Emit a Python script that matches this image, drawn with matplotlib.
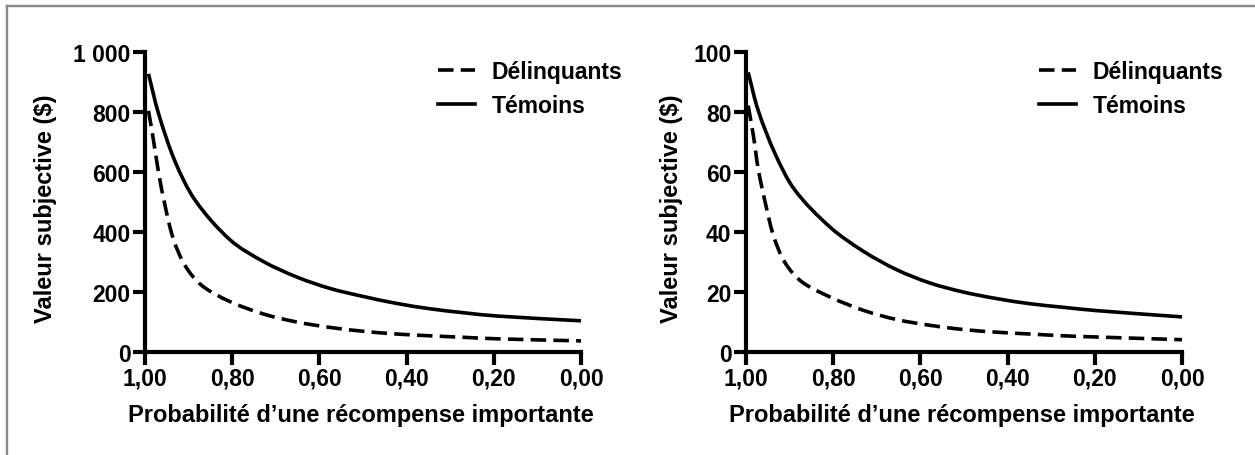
import matplotlib
matplotlib.use("Agg")
import numpy as np
import matplotlib.pyplot as plt
from matplotlib.lines import Line2D
from matplotlib.path import Path
from matplotlib.patches import PathPatch

plt.rcParams['font.family'] = ['Liberation Sans', 'DejaVu Sans']
plt.rcParams['font.weight'] = 'bold'

# ---- data ----
# Left panel (1 000 $)
p_temoins_1000 = [0.992, 0.969, 0.931, 0.885, 0.805, 0.729, 0.652,
                  0.576, 0.499, 0.423, 0.346, 0.270, 0.193, 0.0]
v_temoins_1000 = [927, 795, 635, 506, 374, 302, 250,
                  212, 185, 162, 144, 131, 120, 104]
p_delinq_1000 = [0.992, 0.981, 0.969, 0.954, 0.935, 0.908, 0.870, 0.805, 0.729,
                 0.652, 0.576, 0.499, 0.423, 0.346, 0.270, 0.193, 0.0]
v_delinq_1000 = [804, 710, 599, 488, 377, 288, 222, 168, 127,
                 100, 82, 69, 60, 54, 49, 44, 37]

# Right panel (100 $)
p_temoins_100 = [0.995, 0.972, 0.933, 0.888, 0.807, 0.731, 0.654,
                 0.578, 0.502, 0.425, 0.349, 0.272, 0.196, 0.0]
v_temoins_100 = [93.2, 80.5, 66.0, 54.0, 41.6, 33.6, 27.4,
                 23.0, 20.0, 17.8, 16.1, 14.9, 13.8, 11.7]
p_delinq_100 = [0.995, 0.983, 0.972, 0.956, 0.937, 0.911, 0.872, 0.805, 0.731,
                0.654, 0.578, 0.502, 0.425, 0.349, 0.272, 0.196, 0.0]
v_delinq_100 = [82.1, 72.1, 61.0, 49.9, 38.8, 29.9, 23.4, 18.2, 13.9,
                10.8, 8.9, 7.5, 6.6, 6.0, 5.4, 5.0, 4.1]

x_ticks = [1.0, 0.8, 0.6, 0.4, 0.2, 0.0]
x_ticklabels = ["1,00", "0,80", "0,60", "0,40", "0,20", "0,00"]
y_ticks_1000 = [0, 200, 400, 600, 800, 1000]
y_ticklabels_1000 = ["0", "200", "400", "600", "800", "1 000"]
y_ticks_100 = [0, 20, 40, 60, 80, 100]
y_ticklabels_100 = ["0", "20", "40", "60", "80", "100"]

series_labels = ["Délinquants", "Témoins"]
xlabel = "Probabilité d\u2019une récompense importante"
ylabel = "Valeur subjective ($)"

W, H = 1255, 456
fig = plt.figure(figsize=(W / 100, H / 100), dpi=100)

# grey frame (top and left visible, cropped on the other sides)
fig.add_artist(Line2D([6.5 / W, 1.01], [1 - 7 / H, 1 - 7 / H], color='#8a8a8a', lw=1.7,
                      transform=fig.transFigure))
fig.add_artist(Line2D([6.5 / W, 6.5 / W], [1 - 7 / H, -0.01], color='#8a8a8a', lw=1.7,
                      transform=fig.transFigure))

LW = 2.6
DASH = (0, (4.3, 2.0))
FS_TICK = 16.5
FS_LAB = 17
FS_LEG = 16.5


def smooth_path(xs, ys, ymax):
    """Smooth Bezier path through the read points (drawing only).
    Tangents are computed in an aspect-corrected space so uneven spacing
    does not create kinks."""
    sx, sy = 436.0, 300.0 / ymax
    pts = np.column_stack([np.asarray(xs, float) * sx, np.asarray(ys, float) * sy])
    n = len(pts)
    tang = np.zeros_like(pts)
    for i in range(n):
        a = pts[max(i - 1, 0)]
        b = pts[min(i + 1, n - 1)]
        d = b - a
        tang[i] = d / np.hypot(*d)
    verts = [pts[0]]
    codes = [Path.MOVETO]
    for i in range(n - 1):
        L = np.hypot(*(pts[i + 1] - pts[i]))
        verts += [pts[i] + tang[i] * L / 3.0, pts[i + 1] - tang[i + 1] * L / 3.0, pts[i + 1]]
        codes += [Path.CURVE4] * 3
    verts = np.array(verts)
    verts[:, 0] /= sx
    verts[:, 1] /= sy
    return Path(verts, codes)


def make_panel(left_px, pt, vt, pd, vd, yticks, yticklabels, ymax, ylab_x):
    ax = fig.add_axes([left_px / W, (H - 353) / H, 436 / W, 300 / H])
    ax.set_xlim(1.0, 0.0)
    ax.set_ylim(0, ymax)
    ax.add_patch(PathPatch(smooth_path(pd, vd, ymax), fill=False, edgecolor='black', lw=LW,
                           linestyle=DASH, capstyle='butt', clip_on=False))
    ax.add_patch(PathPatch(smooth_path(pt, vt, ymax), fill=False, edgecolor='black', lw=LW,
                           linestyle='-', capstyle='butt', clip_on=False))
    ax.set_xticks(x_ticks)
    ax.set_xticklabels(x_ticklabels)
    ax.set_yticks(yticks)
    ax.set_yticklabels(yticklabels)
    for s in ['top', 'right']:
        ax.spines[s].set_visible(False)
    for s in ['left', 'bottom']:
        ax.spines[s].set_linewidth(3.0)
        ax.spines[s].set_capstyle('projecting')
    ax.tick_params(axis='both', which='major', width=3.0, length=9, labelsize=FS_TICK,
                   direction='out', pad=1.5)
    for lab in ax.get_xticklabels() + ax.get_yticklabels():
        lab.set_fontweight('bold')
    ax.set_xlabel(xlabel, fontsize=FS_LAB, fontweight='bold')
    ax.xaxis.set_label_coords(0.495, -0.207)
    ax.xaxis.label.set_va('center')
    ax.set_ylabel(ylabel, fontsize=FS_LAB, fontweight='bold')
    ax.yaxis.set_label_coords(ylab_x, 0.48)
    ax.yaxis.label.set_va('center')
    handles = [Line2D([], [], color='black', lw=LW, linestyle=DASH, dash_capstyle='butt'),
               Line2D([], [], color='black', lw=LW, linestyle='-')]
    leg = ax.legend(handles, series_labels, loc='upper left', bbox_to_anchor=(0.672, 0.973),
                    frameon=False, fontsize=FS_LEG, handlelength=1.6, handletextpad=0.75,
                    labelspacing=0.48, borderpad=0, borderaxespad=0)
    for t in leg.get_texts():
        t.set_fontweight('bold')
    ax.patch.set_alpha(0)
    return ax


ax1 = make_panel(145, p_temoins_1000, v_temoins_1000, p_delinq_1000, v_delinq_1000,
                 y_ticks_1000, y_ticklabels_1000, 1000, -0.229)
ax2 = make_panel(746, p_temoins_100, v_temoins_100, p_delinq_100, v_delinq_100,
                 y_ticks_100, y_ticklabels_100, 100, -0.172)

fig.savefig("out.png", dpi=100, facecolor='white')
